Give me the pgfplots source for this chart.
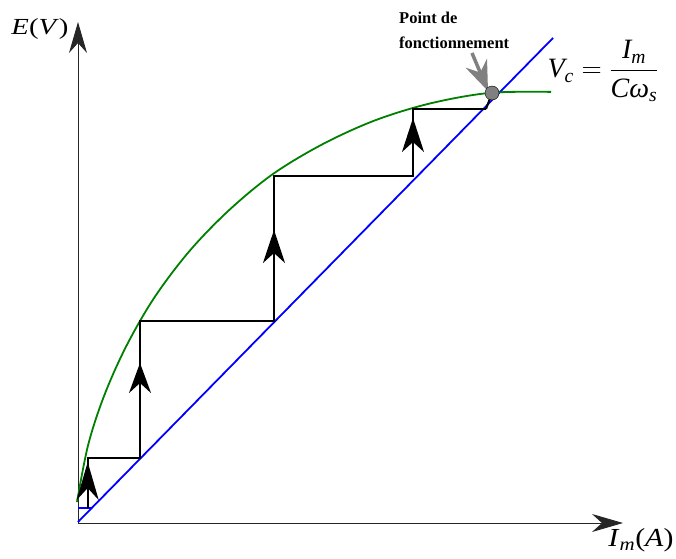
\RequirePackage{fix-cm}
\documentclass[border=0pt]{standalone}
\usepackage{amsmath}
\usepackage{fontspec}
\setmainfont{Liberation Serif}
\usepackage{pgfplots}
\pgfplotsset{compat=1.18}
\usetikzlibrary{arrows.meta}

\definecolor{curvegreen}{RGB}{0,128,0}

\begin{document}
\begin{tikzpicture}[x=1pt,y=1pt]
\useasboundingbox (-78,-35) rectangle (598,523);
\begin{axis}[
    at={(0,0)}, anchor=south west,
    scale only axis, width=545pt, height=501pt,
    xmin=0, xmax=545, ymin=0, ymax=501,
    axis lines=left,
    xtick=\empty, ytick=\empty,
    axis line style={black!85, line width=0.9pt},
    x axis line style={-{Stealth[length=31pt,width=18pt,inset=10pt]}},
    y axis line style={-{Stealth[length=31pt,width=18pt,inset=10pt]}},
    clip=false,
]
% droite V_c = I_m / (C w_s)
\addplot[blue, line width=1.8pt] coordinates {(0,1)(475,485)};
\addplot[blue, line width=1.8pt] coordinates {(0,15)(14,15)};

% caracteristique a vide E(I_m)
\addplot[curvegreen, line width=1.8pt, smooth, tension=0.55] coordinates {
(-1,21)(10.1,77.9)(26.2,127.4)(48.2,176.7)(76.2,225.2)(111.1,271.5)
(150.7,312.5)(194.7,348.8)(244.4,378.7)(297.2,402.7)(352.7,419.7)
(411.8,430.1)(473,431.1)
};

% escalier d'amorcage
\addplot[black, line width=2pt] coordinates {
(9.7,15)(9.7,65)(62,65)(62,202)(196,202)(196,347)(335,347)(335,414)(408,414)
};

\draw[black, line width=2pt, -{Stealth[length=38pt,width=22pt,inset=12pt]}] (axis cs:9.7,20) -- (axis cs:9.7,61);
\draw[black, line width=2pt, -{Stealth[length=30pt,width=22pt,inset=10pt]}] (axis cs:62,120) -- (axis cs:62,160);
\draw[black, line width=2pt, -{Stealth[length=33pt,width=22pt,inset=10pt]}] (axis cs:196,250) -- (axis cs:196,293);
\draw[black, line width=2pt, -{Stealth[length=34pt,width=22pt,inset=10pt]}] (axis cs:335,365) -- (axis cs:335,405);

% point de fonctionnement
\draw[gray, line width=3.5pt, -{Stealth[length=30pt,width=23pt,inset=10pt]}] (axis cs:394,470) -- (axis cs:410,432);
\addplot[only marks, mark=*, mark size=7pt, mark options={fill=gray, draw=none}] coordinates {(414,430)};
\addplot[black, line width=2pt] coordinates {(408,414)(414,430)};

\node[anchor=base west, inner sep=0pt, font=\fontsize{16.5}{18}\selectfont\bfseries] at (axis cs:321,500) {Point de};
\node[anchor=base west, inner sep=0pt, font=\fontsize{16.5}{18}\selectfont\bfseries] at (axis cs:321,475) {fonctionnement};

\node at (axis cs:525,452) {\fontsize{28}{32}\selectfont
  $\mathit{V}_{\mathit{c}} = \dfrac{\mathit{I}_{\mathit{m}}}{\mathit{C}\text{\itshape ω}_{\mathit{s}}}$};
\node at (axis cs:-38,494) {\scalebox{1.25}[1]{\fontsize{23}{26}\selectfont\textit{E}(\textit{V})}};
\node at (axis cs:563,-17) {\scalebox{1.15}[1]{\fontsize{26}{28}\selectfont\textit{I}$_{\mathit{m}}$(\textit{A})}};
\end{axis}
\end{tikzpicture}
\end{document}
